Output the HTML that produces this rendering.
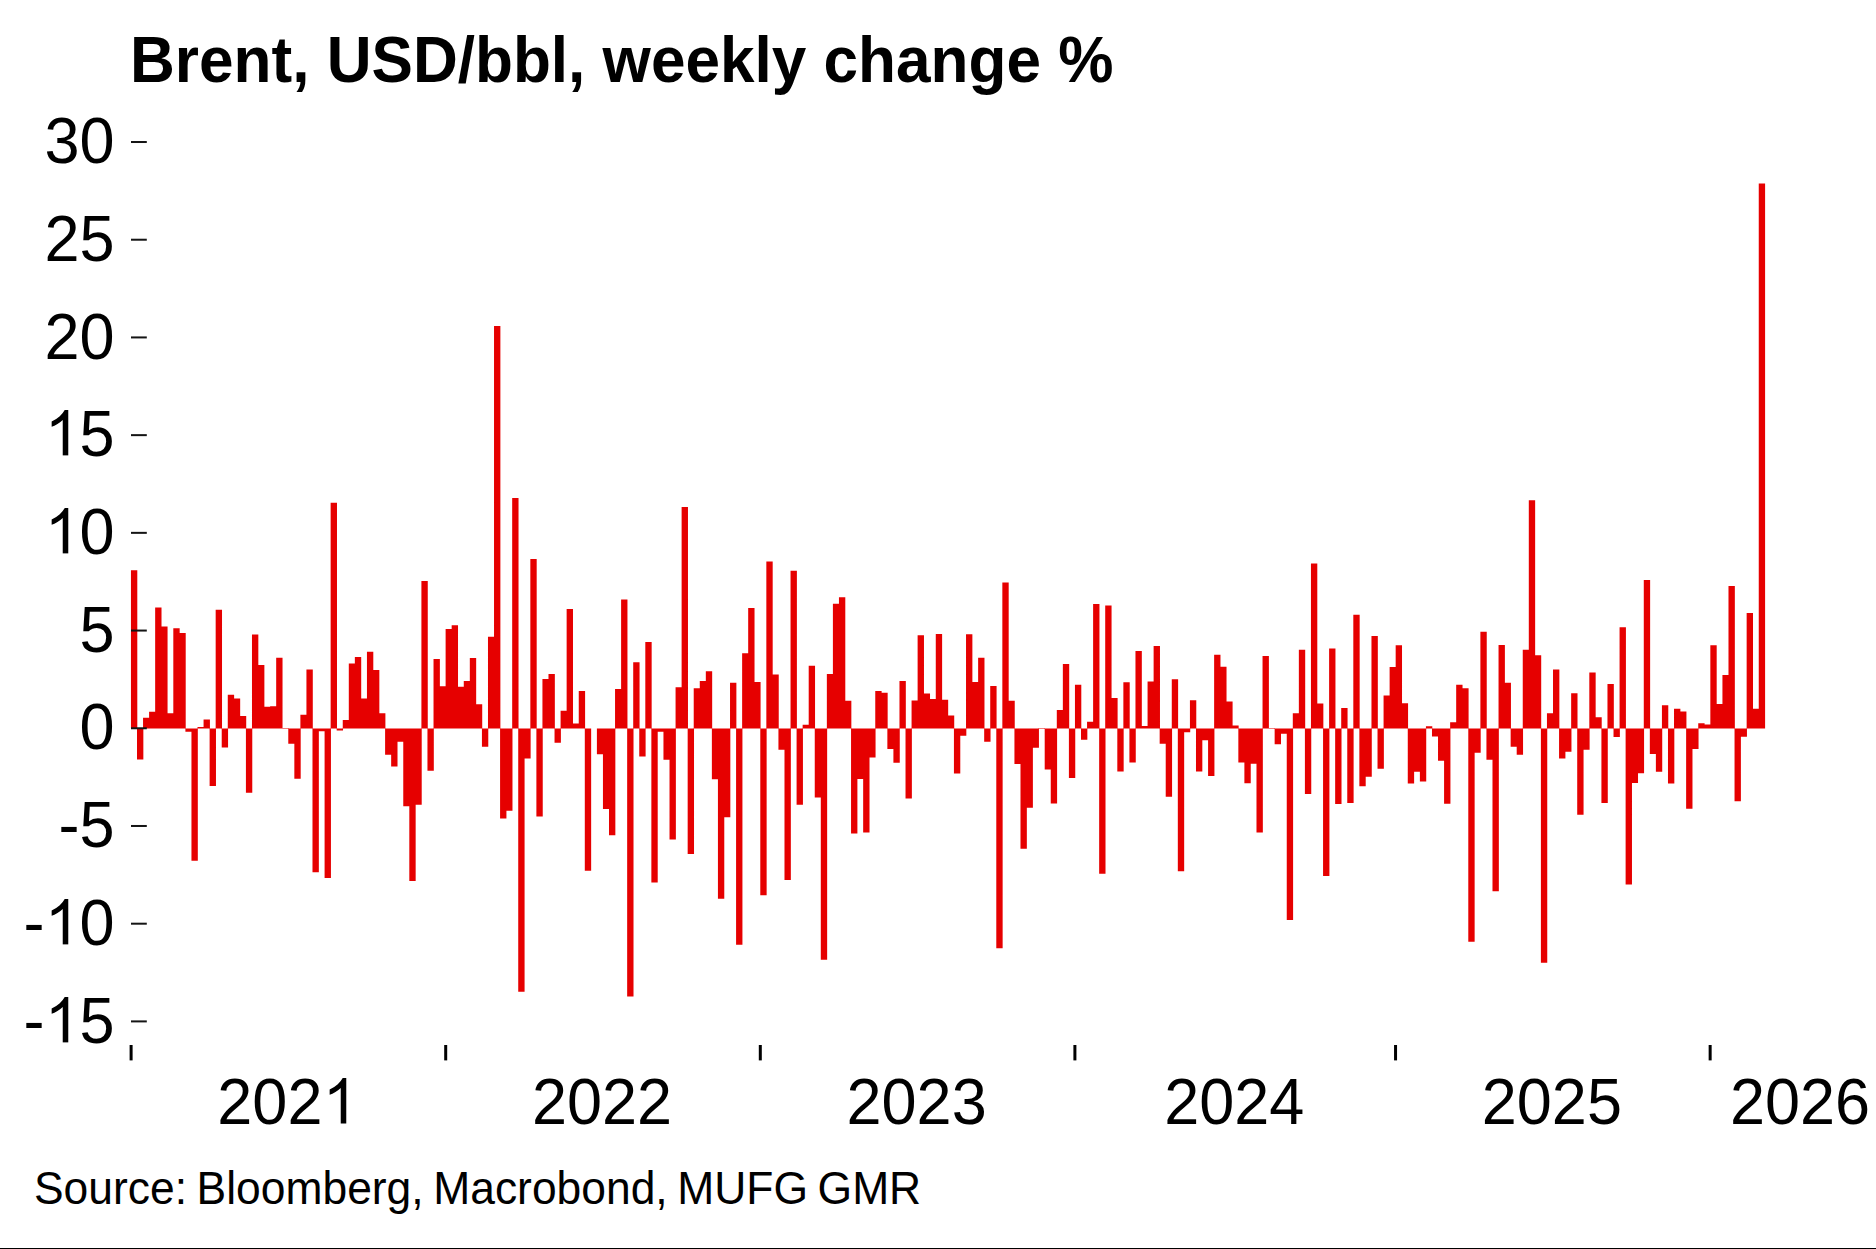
<!DOCTYPE html>
<html><head><meta charset="utf-8"><title>Brent</title>
<style>
html,body{margin:0;padding:0;background:#fff;}
body{width:1876px;height:1249px;position:relative;overflow:hidden;font-family:"Liberation Sans",sans-serif;color:#000;}
#t{position:absolute;left:130px;top:25.1px;font-size:62.1px;font-weight:bold;line-height:72px;white-space:nowrap;transform-origin:0 57px;transform:scaleY(1.049);}
.yl{position:absolute;left:0;width:114.5px;text-align:right;font-size:63px;line-height:70px;margin-top:-36.9px;white-space:nowrap;transform-origin:0 35.3px;transform:scaleY(1.04);}
.xl{position:absolute;top:1065.5px;width:200px;text-align:center;font-size:63px;line-height:70px;white-space:nowrap;transform-origin:0 35px;transform:scaleY(1.04);}
#src{position:absolute;left:34px;top:1164.3px;font-size:44.4px;word-spacing:-2.7px;line-height:50px;white-space:nowrap;transform-origin:0 40px;transform:scaleY(1.045);}
#bl{position:absolute;left:0;top:1247.6px;width:1876px;height:1.4px;background:#000;}
#ch{position:absolute;left:0;top:0;}
.o{display:inline-block;width:0.55615em;height:0.6911em;vertical-align:baseline;fill:#000;}
</style></head><body>
<svg id="ch" width="1876" height="1249" viewBox="0 0 1876 1249">
<path fill="#e60000" d="M130.95 570.26h6.35v158.16h-6.35zM137.00 728.42h6.35v31.08h-6.35zM143.05 717.67h6.35v10.75h-6.35zM149.10 711.80h6.35v16.62h-6.35zM155.16 607.41h6.35v121.01h-6.35zM161.21 626.56h6.35v101.86h-6.35zM167.26 713.17h6.35v15.25h-6.35zM173.31 628.13h6.35v100.29h-6.35zM179.36 633.02h6.35v95.40h-6.35zM185.41 728.42h6.35v3.32h-6.35zM191.46 728.42h6.35v132.35h-6.35zM197.51 727.05h6.35v1.37h-6.35zM203.57 719.43h6.35v8.99h-6.35zM209.62 728.42h6.35v57.48h-6.35zM215.67 609.75h6.35v118.67h-6.35zM221.72 728.42h6.35v19.16h-6.35zM227.77 694.79h6.35v33.63h-6.35zM233.82 698.51h6.35v29.91h-6.35zM239.87 715.91h6.35v12.51h-6.35zM245.92 728.42h6.35v64.32h-6.35zM251.98 634.38h6.35v94.04h-6.35zM258.03 664.88h6.35v63.54h-6.35zM264.08 706.72h6.35v21.70h-6.35zM270.13 706.13h6.35v22.29h-6.35zM276.18 657.65h6.35v70.77h-6.35zM282.23 728.03h6.35v0.39h-6.35zM288.28 728.42h6.35v15.44h-6.35zM294.34 728.42h6.35v50.44h-6.35zM300.39 714.74h6.35v13.69h-6.35zM306.44 669.38h6.35v59.04h-6.35zM312.49 728.42h6.35v143.89h-6.35zM318.54 728.42h6.35v2.93h-6.35zM324.59 728.42h6.35v149.56h-6.35zM330.64 502.81h6.35v225.61h-6.35zM336.69 728.42h6.35v2.15h-6.35zM342.75 720.01h6.35v8.41h-6.35zM348.80 663.51h6.35v64.91h-6.35zM354.85 657.06h6.35v71.36h-6.35zM360.90 698.51h6.35v29.91h-6.35zM366.95 651.78h6.35v76.64h-6.35zM373.00 669.97h6.35v58.45h-6.35zM379.05 713.17h6.35v15.25h-6.35zM385.10 728.42h6.35v26.39h-6.35zM391.16 728.42h6.35v38.12h-6.35zM397.21 728.42h6.35v13.29h-6.35zM403.26 728.42h6.35v77.81h-6.35zM409.31 728.42h6.35v152.69h-6.35zM415.36 728.42h6.35v76.25h-6.35zM421.41 581.01h6.35v147.41h-6.35zM427.46 728.42h6.35v42.23h-6.35zM433.52 659.02h6.35v69.40h-6.35zM439.57 686.19h6.35v42.23h-6.35zM445.62 628.91h6.35v99.51h-6.35zM451.67 625.20h6.35v103.22h-6.35zM457.72 686.78h6.35v41.64h-6.35zM463.77 680.91h6.35v47.51h-6.35zM469.82 658.04h6.35v70.38h-6.35zM475.87 704.18h6.35v24.24h-6.35zM481.93 728.42h6.35v18.38h-6.35zM487.98 636.73h6.35v91.69h-6.35zM494.03 325.89h6.35v402.53h-6.35zM500.08 728.42h6.35v90.13h-6.35zM506.13 728.42h6.35v82.31h-6.35zM512.18 498.12h6.35v230.30h-6.35zM518.23 728.42h6.35v263.34h-6.35zM524.28 728.42h6.35v30.11h-6.35zM530.34 558.92h6.35v169.50h-6.35zM536.39 728.42h6.35v88.17h-6.35zM542.44 678.96h6.35v49.46h-6.35zM548.49 673.88h6.35v54.54h-6.35zM554.54 728.42h6.35v14.27h-6.35zM560.59 710.82h6.35v17.60h-6.35zM566.64 608.97h6.35v119.45h-6.35zM572.69 723.53h6.35v4.89h-6.35zM578.75 691.08h6.35v37.34h-6.35zM584.80 728.42h6.35v142.32h-6.35zM596.90 728.42h6.35v25.81h-6.35zM602.95 728.42h6.35v80.55h-6.35zM609.00 728.42h6.35v106.74h-6.35zM615.05 688.93h6.35v39.49h-6.35zM621.11 599.39h6.35v129.03h-6.35zM627.16 728.42h6.35v268.03h-6.35zM633.21 662.15h6.35v66.27h-6.35zM639.26 728.42h6.35v27.96h-6.35zM645.31 642.01h6.35v86.41h-6.35zM651.36 728.42h6.35v154.05h-6.35zM657.41 728.42h6.35v3.32h-6.35zM663.46 728.42h6.35v31.28h-6.35zM669.52 728.42h6.35v111.04h-6.35zM675.57 687.17h6.35v41.25h-6.35zM681.62 507.11h6.35v221.31h-6.35zM687.67 728.42h6.35v125.51h-6.35zM693.72 688.34h6.35v40.08h-6.35zM699.77 681.11h6.35v47.31h-6.35zM705.82 671.33h6.35v57.09h-6.35zM711.87 728.42h6.35v50.83h-6.35zM717.93 728.42h6.35v170.28h-6.35zM723.98 728.42h6.35v88.76h-6.35zM730.03 682.87h6.35v45.55h-6.35zM736.08 728.42h6.35v216.42h-6.35zM742.13 653.15h6.35v75.27h-6.35zM748.18 607.99h6.35v120.43h-6.35zM754.23 682.09h6.35v46.33h-6.35zM760.29 728.42h6.35v166.76h-6.35zM766.34 561.46h6.35v166.96h-6.35zM772.39 674.46h6.35v53.96h-6.35zM778.44 728.42h6.35v21.31h-6.35zM784.49 728.42h6.35v151.51h-6.35zM790.54 570.85h6.35v157.57h-6.35zM796.59 728.42h6.35v76.44h-6.35zM802.64 724.71h6.35v3.71h-6.35zM808.70 665.66h6.35v62.76h-6.35zM814.75 728.42h6.35v69.01h-6.35zM820.80 728.42h6.35v231.28h-6.35zM826.85 674.07h6.35v54.35h-6.35zM832.90 603.69h6.35v124.73h-6.35zM838.95 597.24h6.35v131.18h-6.35zM845.00 700.85h6.35v27.57h-6.35zM851.05 728.42h6.35v105.18h-6.35zM857.11 728.42h6.35v50.63h-6.35zM863.16 728.42h6.35v104.01h-6.35zM869.21 728.42h6.35v29.13h-6.35zM875.26 691.08h6.35v37.34h-6.35zM881.31 692.84h6.35v35.58h-6.35zM887.36 728.42h6.35v20.53h-6.35zM893.41 728.42h6.35v34.21h-6.35zM899.47 680.91h6.35v47.51h-6.35zM905.52 728.42h6.35v69.99h-6.35zM911.57 700.46h6.35v27.96h-6.35zM917.62 635.17h6.35v93.25h-6.35zM923.67 693.43h6.35v34.99h-6.35zM929.72 698.90h6.35v29.52h-6.35zM935.77 633.99h6.35v94.43h-6.35zM941.82 699.68h6.35v28.74h-6.35zM947.88 715.52h6.35v12.90h-6.35zM953.93 728.42h6.35v44.96h-6.35zM959.98 728.42h6.35v7.43h-6.35zM966.03 634.19h6.35v94.23h-6.35zM972.08 682.09h6.35v46.33h-6.35zM978.13 657.84h6.35v70.58h-6.35zM984.18 728.42h6.35v13.29h-6.35zM990.23 686.00h6.35v42.42h-6.35zM996.29 728.42h6.35v219.94h-6.35zM1002.34 582.58h6.35v145.84h-6.35zM1008.39 700.85h6.35v27.57h-6.35zM1014.44 728.42h6.35v35.58h-6.35zM1020.49 728.42h6.35v120.43h-6.35zM1026.54 728.42h6.35v79.37h-6.35zM1032.59 728.42h6.35v19.35h-6.35zM1038.64 728.03h6.35v0.39h-6.35zM1044.70 728.42h6.35v41.05h-6.35zM1050.75 728.42h6.35v75.07h-6.35zM1056.80 710.04h6.35v18.38h-6.35zM1062.85 664.10h6.35v64.32h-6.35zM1068.90 728.42h6.35v49.66h-6.35zM1074.95 684.82h6.35v43.60h-6.35zM1081.00 728.42h6.35v11.34h-6.35zM1087.06 721.77h6.35v6.65h-6.35zM1093.11 604.08h6.35v124.34h-6.35zM1099.16 728.42h6.35v145.26h-6.35zM1105.21 605.45h6.35v122.97h-6.35zM1111.26 697.92h6.35v30.50h-6.35zM1117.31 728.42h6.35v43.01h-6.35zM1123.36 682.28h6.35v46.14h-6.35zM1129.41 728.42h6.35v34.02h-6.35zM1135.47 651.00h6.35v77.42h-6.35zM1141.52 725.88h6.35v2.54h-6.35zM1147.57 681.50h6.35v46.92h-6.35zM1153.62 646.11h6.35v82.31h-6.35zM1159.67 728.42h6.35v15.25h-6.35zM1165.72 728.42h6.35v68.23h-6.35zM1171.77 679.15h6.35v49.27h-6.35zM1177.82 728.42h6.35v142.72h-6.35zM1183.88 728.42h6.35v3.71h-6.35zM1189.93 700.27h6.35v28.15h-6.35zM1195.98 728.42h6.35v43.01h-6.35zM1202.03 728.42h6.35v11.73h-6.35zM1208.08 728.42h6.35v47.51h-6.35zM1214.13 654.72h6.35v73.70h-6.35zM1220.18 666.84h6.35v61.58h-6.35zM1226.24 701.44h6.35v26.98h-6.35zM1232.29 725.49h6.35v2.93h-6.35zM1238.34 728.42h6.35v34.02h-6.35zM1244.39 728.42h6.35v54.74h-6.35zM1250.44 728.42h6.35v35.39h-6.35zM1256.49 728.42h6.35v104.01h-6.35zM1262.54 656.08h6.35v72.34h-6.35zM1268.59 728.03h6.35v0.39h-6.35zM1274.65 728.42h6.35v15.84h-6.35zM1280.70 728.42h6.35v5.28h-6.35zM1286.75 728.42h6.35v191.59h-6.35zM1292.80 713.37h6.35v15.05h-6.35zM1298.85 649.83h6.35v78.59h-6.35zM1304.90 728.42h6.35v65.49h-6.35zM1310.95 563.42h6.35v165.00h-6.35zM1317.00 703.59h6.35v24.83h-6.35zM1323.06 728.42h6.35v147.60h-6.35zM1329.11 648.46h6.35v79.96h-6.35zM1335.16 728.42h6.35v75.66h-6.35zM1341.21 707.89h6.35v20.53h-6.35zM1347.26 728.42h6.35v74.49h-6.35zM1353.31 614.83h6.35v113.59h-6.35zM1359.36 728.42h6.35v57.87h-6.35zM1365.42 728.42h6.35v48.29h-6.35zM1371.47 635.95h6.35v92.47h-6.35zM1377.52 728.42h6.35v40.27h-6.35zM1383.57 695.58h6.35v32.84h-6.35zM1389.62 667.03h6.35v61.39h-6.35zM1395.67 645.33h6.35v83.09h-6.35zM1401.72 703.20h6.35v25.22h-6.35zM1407.77 728.42h6.35v55.13h-6.35zM1413.83 728.42h6.35v43.40h-6.35zM1419.88 728.42h6.35v53.18h-6.35zM1425.93 726.27h6.35v2.15h-6.35zM1431.98 728.42h6.35v8.02h-6.35zM1438.03 728.42h6.35v32.45h-6.35zM1444.08 728.42h6.35v75.27h-6.35zM1450.13 722.16h6.35v6.26h-6.35zM1456.18 684.82h6.35v43.60h-6.35zM1462.24 688.34h6.35v40.08h-6.35zM1468.29 728.42h6.35v213.29h-6.35zM1474.34 728.42h6.35v24.24h-6.35zM1480.39 631.84h6.35v96.58h-6.35zM1486.44 728.42h6.35v31.28h-6.35zM1492.49 728.42h6.35v162.85h-6.35zM1498.54 644.94h6.35v83.48h-6.35zM1504.60 682.67h6.35v45.75h-6.35zM1510.65 728.42h6.35v18.38h-6.35zM1516.70 728.42h6.35v26.39h-6.35zM1522.75 649.83h6.35v78.59h-6.35zM1528.80 500.27h6.35v228.15h-6.35zM1534.85 655.30h6.35v73.12h-6.35zM1540.90 728.42h6.35v234.40h-6.35zM1546.95 713.17h6.35v15.25h-6.35zM1553.01 669.38h6.35v59.04h-6.35zM1559.06 728.42h6.35v30.11h-6.35zM1565.11 728.42h6.35v23.26h-6.35zM1571.16 693.23h6.35v35.19h-6.35zM1577.21 728.42h6.35v86.22h-6.35zM1583.26 728.42h6.35v21.31h-6.35zM1589.31 672.51h6.35v55.91h-6.35zM1595.36 717.28h6.35v11.14h-6.35zM1601.42 728.42h6.35v74.68h-6.35zM1607.47 684.04h6.35v44.38h-6.35zM1613.52 728.42h6.35v8.60h-6.35zM1619.57 627.35h6.35v101.07h-6.35zM1625.62 728.42h6.35v156.01h-6.35zM1631.67 728.42h6.35v54.54h-6.35zM1637.72 728.42h6.35v44.77h-6.35zM1643.78 580.04h6.35v148.38h-6.35zM1649.83 728.42h6.35v25.61h-6.35zM1655.88 728.42h6.35v43.40h-6.35zM1661.93 705.16h6.35v23.26h-6.35zM1667.98 728.42h6.35v55.13h-6.35zM1674.03 708.67h6.35v19.75h-6.35zM1680.08 711.41h6.35v17.01h-6.35zM1686.13 728.42h6.35v80.35h-6.35zM1692.19 728.42h6.35v20.53h-6.35zM1698.24 723.14h6.35v5.28h-6.35zM1704.29 724.51h6.35v3.91h-6.35zM1710.34 645.14h6.35v83.28h-6.35zM1716.39 703.98h6.35v24.44h-6.35zM1722.44 675.05h6.35v53.37h-6.35zM1728.49 585.90h6.35v142.52h-6.35zM1734.54 728.42h6.35v72.92h-6.35zM1740.60 728.42h6.35v8.41h-6.35zM1746.65 612.88h6.35v115.54h-6.35zM1752.70 708.87h6.35v19.55h-6.35zM1758.75 183.56h6.35v544.86h-6.35z"/>
<g fill="#141414"><rect x="131" y="141.01" width="15.8" height="2"/><rect x="131" y="238.72" width="15.8" height="2"/><rect x="131" y="336.43" width="15.8" height="2"/><rect x="131" y="434.14" width="15.8" height="2"/><rect x="131" y="531.85" width="15.8" height="2"/><rect x="131" y="629.56" width="15.8" height="2"/><rect x="131" y="727.27" width="15.8" height="2"/><rect x="131" y="824.98" width="15.8" height="2"/><rect x="131" y="922.69" width="15.8" height="2"/><rect x="131" y="1020.40" width="15.8" height="2"/></g>
<g fill="#000"><rect x="129.60" y="1045" width="3" height="15.4"/><rect x="444.20" y="1045" width="3" height="15.4"/><rect x="758.80" y="1045" width="3" height="15.4"/><rect x="1073.40" y="1045" width="3" height="15.4"/><rect x="1394.05" y="1045" width="3" height="15.4"/><rect x="1708.65" y="1045" width="3" height="15.4"/></g>
</svg>
<div id="t">Brent, USD/bbl, weekly change %</div>
<div class="yl" style="top:142.01px">30</div><div class="yl" style="top:239.72px">25</div><div class="yl" style="top:337.43px">20</div><div class="yl" style="top:435.14px"><svg class="o" viewBox="-26 0 1139 1472" preserveAspectRatio="none"><path d="M763 1472H583V325Q518 387 412.5 449Q307 511 223 542V368Q374 297 487 196Q600 95 647 0H763Z"/></svg>5</div><div class="yl" style="top:532.85px"><svg class="o" viewBox="-26 0 1139 1472" preserveAspectRatio="none"><path d="M763 1472H583V325Q518 387 412.5 449Q307 511 223 542V368Q374 297 487 196Q600 95 647 0H763Z"/></svg>0</div><div class="yl" style="top:630.56px">5</div><div class="yl" style="top:728.27px">0</div><div class="yl" style="top:825.98px">-5</div><div class="yl" style="top:923.69px">-<svg class="o" viewBox="-26 0 1139 1472" preserveAspectRatio="none"><path d="M763 1472H583V325Q518 387 412.5 449Q307 511 223 542V368Q374 297 487 196Q600 95 647 0H763Z"/></svg>0</div><div class="yl" style="top:1021.40px">-<svg class="o" viewBox="-26 0 1139 1472" preserveAspectRatio="none"><path d="M763 1472H583V325Q518 387 412.5 449Q307 511 223 542V368Q374 297 487 196Q600 95 647 0H763Z"/></svg>5</div>
<div class="xl" style="left:187.40px">202<svg class="o" viewBox="-26 0 1139 1472" preserveAspectRatio="none"><path d="M763 1472H583V325Q518 387 412.5 449Q307 511 223 542V368Q374 297 487 196Q600 95 647 0H763Z"/></svg></div><div class="xl" style="left:502.00px">2022</div><div class="xl" style="left:816.60px">2023</div><div class="xl" style="left:1134.22px">2024</div><div class="xl" style="left:1451.85px">2025</div>
<div class="xl" style="left:1730px;width:auto;text-align:left">2026</div>
<div id="src">Source: Bloomberg, Macrobond, MUFG GMR</div>
<div id="bl"></div>
</body></html>
